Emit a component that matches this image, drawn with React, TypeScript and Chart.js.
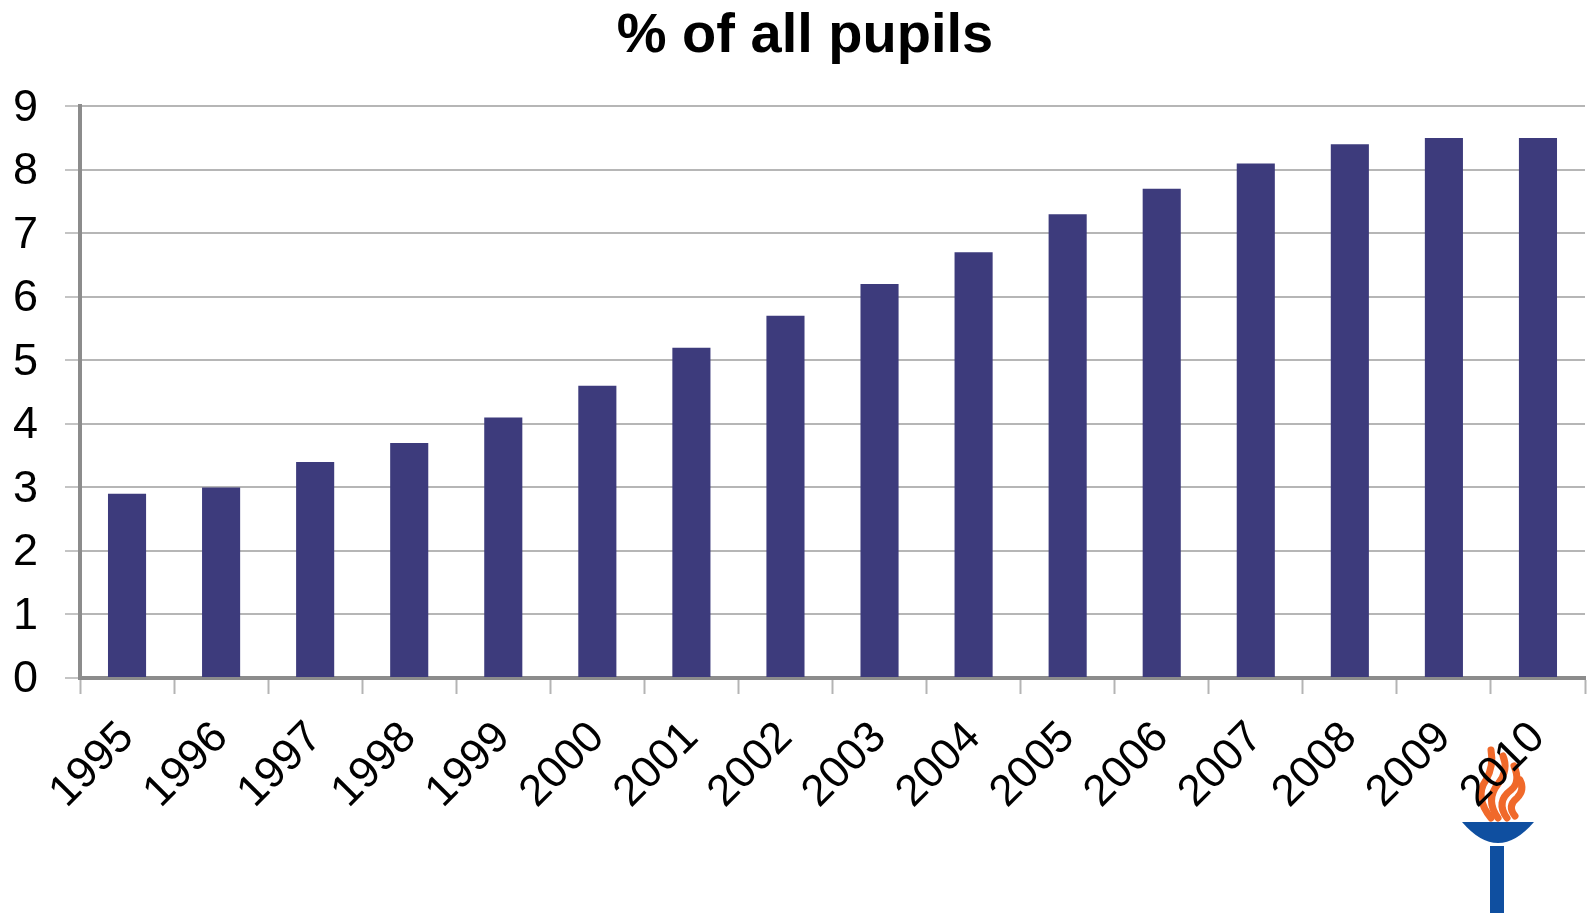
import React, { useEffect, useRef } from "react";
import { Chart, registerables } from "chart.js";

Chart.register(...registerables);

const chartTitle = "% of all pupils";
const years = ["1995","1996","1997","1998","1999","2000","2001","2002","2003","2004","2005","2006","2007","2008","2009","2010"];
const pupilShare = [2.9,3.0,3.4,3.7,4.1,4.6,5.2,5.7,6.2,6.7,7.3,7.7,8.1,8.4,8.5,8.5];
const FONT = "'Liberation Sans', Arial, sans-serif";

const torchLogo = {
  id: "torchLogo",
  afterLayout(chart: any) {
    if (chart.titleBlock) {
      chart.titleBlock.left = 22;
      chart.titleBlock.right = 1588;
    }
  },
  beforeDraw(chart: any) {
    const c = chart.ctx;
    c.save();
    c.fillStyle = "#0f4fa0";
    c.beginPath();
    c.moveTo(1462, 822);
    c.lineTo(1534, 822);
    c.quadraticCurveTo(1498, 864, 1462, 822);
    c.closePath();
    c.fill();
    c.fillRect(1490, 846, 14, 67);
    c.strokeStyle = "#f0692a";
    c.lineCap = "round";
    c.lineJoin = "round";
    c.lineWidth = 7;
    const flames: number[][] = [
      [1491, 818, 1474, 797, 1486, 780, 1494, 766, 1491, 750],
      [1498, 818, 1485, 800, 1498, 784, 1509, 770, 1503, 756],
      [1507, 818, 1495, 802, 1511, 790, 1521, 782, 1514, 766],
      [1515, 816, 1507, 806, 1517, 798, 1525, 790, 1520, 780],
    ];
    for (const f of flames) {
      c.beginPath();
      c.moveTo(f[0], f[1]);
      c.quadraticCurveTo(f[2], f[3], f[4], f[5]);
      c.quadraticCurveTo(f[6], f[7], f[8], f[9]);
      c.stroke();
    }
    c.restore();
  },
};

export default function App() {
  const ref = useRef<HTMLCanvasElement>(null);
  useEffect(() => {
    document.body.style.margin = "0";
    document.body.style.background = "#fff";
    const chart = new Chart(ref.current!, {
      type: "bar",
      data: {
        labels: years,
        datasets: [{ data: pupilShare, backgroundColor: "#3d3b7c", barPercentage: 0.405, categoryPercentage: 1 }],
      },
      plugins: [torchLogo],
      options: {
        responsive: false,
        animation: false,
        layout: { padding: { left: 0, right: 3, top: 0, bottom: 0 } },
        plugins: {
          legend: { display: false },
          tooltip: { enabled: false },
          title: {
            display: true,
            text: chartTitle,
            color: "#000",
            font: { family: FONT, size: 56, weight: "bold", lineHeight: 1.2 },
            padding: { top: 3, bottom: 36 },
          },
        },
        scales: {
          x: {
            afterFit: (s: any) => { s.height = 235; s.paddingRight = 0; s.paddingLeft = 0; },
            grid: { drawOnChartArea: false, drawTicks: true, tickLength: 16, tickColor: "#b4b4b4", tickWidth: 2, offset: true },
            border: { color: "#8c8c8c", width: 4 },
            ticks: { color: "#000", font: { family: FONT, size: 44 }, minRotation: 45, maxRotation: 45, padding: 18, autoSkip: false },
          },
          y: {
            min: 0,
            max: 9,
            afterFit: (s: any) => { s.width = 80; },
            grid: { color: "#b6b6b6", lineWidth: 2, tickLength: 15, tickColor: "#c4c4c4" },
            border: { color: "#8c8c8c", width: 4 },
            ticks: { color: "#000", stepSize: 1, font: { family: FONT, size: 45 }, padding: 27, labelOffset: 2 },
          },
        },
      },
    } as any);
    return () => chart.destroy();
  }, []);
  return <canvas ref={ref} width={1588} height={913} style={{ display: "block", filter: "blur(0.6px)" }} />;
}
